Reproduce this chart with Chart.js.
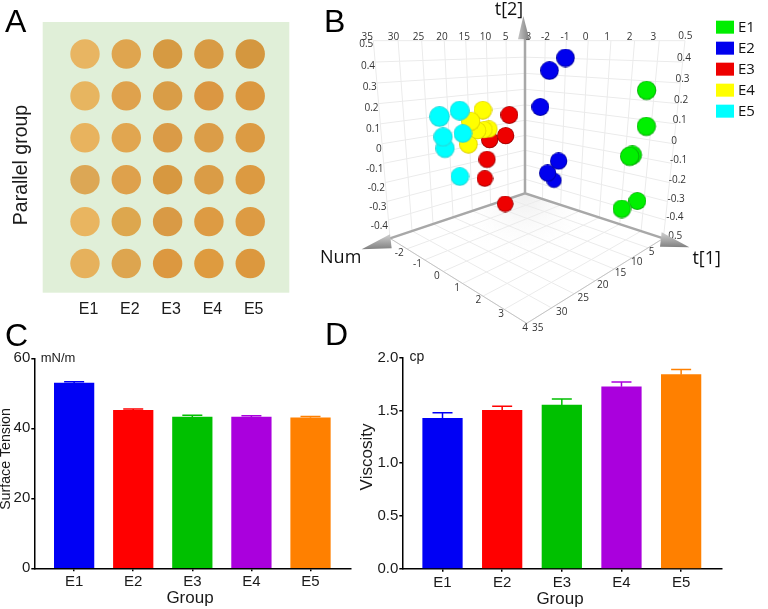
<!DOCTYPE html>
<html>
<head>
<meta charset="utf-8">
<title>Panels A-D</title>
<script src="https://cdn.jsdelivr.net/npm/chart.js@4"></script>
<style>
    html, body { margin: 0; padding: 0; background: #fff; }
    #page { position: relative; width: 768px; height: 609px; overflow: hidden; }
    canvas { position: absolute; }
    .letter { position: absolute; font: 32px/32px "Liberation Sans", sans-serif; color: #000; }
</style>
</head>
<body>
<div id="page">
    <canvas id="panel-a" width="310" height="325" style="left:0;top:0"></canvas>
    <canvas id="panel-b" width="458" height="340" style="left:310px;top:0"></canvas>
    <canvas id="panel-c" width="352" height="269" style="left:0;top:340px"></canvas>
    <canvas id="panel-d" width="400" height="269" style="left:352px;top:340px"></canvas>
    <div class="letter" style="left:5px;top:5px">A</div>
    <div class="letter" style="left:324px;top:5px">B</div>
    <div class="letter" style="left:5px;top:319px">C</div>
    <div class="letter" style="left:325px;top:318px">D</div>
</div>
<script>
// groups
const groups = ['E1', 'E2', 'E3', 'E4', 'E5'];

// panel A: seed colours, one row per parallel
const parallelRows = [1, 2, 3, 4, 5, 6];
const seedColours = [
    ['#e8b562', '#dfa54f', '#d69a42', '#d89b44', '#d4973f'],
    ['#e7b560', '#dfa24d', '#d99d47', '#db9742', '#db9840'],
    ['#e8b35e', '#e1a650', '#da9b47', '#db9d48', '#dc9b43'],
    ['#dca755', '#dea14c', '#d79840', '#da9c46', '#dc9a41'],
    ['#e9b560', '#dda74e', '#d99a45', '#dd9b43', '#dd9b43'],
    ['#e6b15c', '#dda54f', '#dc9840', '#de9b3f', '#dc983e']
];

// panel B: score positions
const e1X = [1011, 1010, 968, 960, 982, 936];
const e1Y = [272, 380, 466, 470, 603, 627];
const e1Depth = [29, 29, 29, 29, 27, 28];
const e2X = [767, 719, 691, 733, 714, 747];
const e2Y = [174, 212, 321, 542, 520, 484];
const e2Depth = [28, 28, 27, 23, 26, 26];
const e3X = [586, 525, 532, 540, 588, 598];
const e3Y = [612, 536, 479, 420, 408, 345];
const e3Depth = [25, 25, 26, 26, 26, 27];
const e4X = [476, 519, 538, 523, 504, 483];
const e4Y = [433, 331, 388, 390, 393, 365];
const e4Depth = [28, 28, 26, 26, 26, 29];
const e5X = [406, 450, 389, 449, 400, 459];
const e5Y = [446, 530, 350, 332, 412, 401];
const e5Depth = [29, 28, 31, 30, 29, 28];

const t1Ticks = ['-3', '-2', '-1', '0', '1', '2', '3'];
const t1FloorTicks = ['-2', '-1', '0', '1', '2', '3', '4'];
const t2LeftTicks = ['0.5', '0.4', '0.3', '0.2', '0.1', '0', '-0.1', '-0.2', '-0.3', '-0.4'];
const t2RightTicks = ['0.5', '0.4', '0.3', '0.2', '0.1', '0', '-0.1', '-0.2', '-0.3', '-0.4', '-0.5'];
const numTicks = ['35', '30', '25', '20', '15', '10', '5'];
const numFloorTicks = ['5', '10', '15', '20', '25', '30', '35'];

// panel C
const tensionValues = [52.9, 45.1, 43.2, 43.2, 43.0];
const tensionUpper = [53.3, 45.5, 43.7, 43.6, 43.4];
const tensionTicks = [0, 20, 40, 60];

// panel D
const viscosityValues = [1.425, 1.50, 1.552, 1.725, 1.839];
const viscosityUpper = [1.479, 1.54, 1.608, 1.77, 1.889];
const viscosityTicks = [0, 0.5, 1, 1.5, 2];

const barColours = ['#0000f5', '#ff0000', '#00c000', '#aa00dd', '#ff8000'];
const legendColours = ['#00ee00', '#0000ee', '#ee0000', '#ffff00', '#00ffff'];

Chart.defaults.font.family = '"Liberation Sans", sans-serif';
Chart.defaults.color = '#1a1a1a';
Chart.defaults.animation = false;
Chart.defaults.responsive = false;
Chart.defaults.layout.autoPadding = false;
Chart.defaults.plugins.legend.display = false;
Chart.defaults.plugins.tooltip.enabled = false;

// text placed in canvas pixels (axis titles, units)
function textPlugin(items) {
    return {
        id: 'panelText',
        afterDraw(chart) {
            const c = chart.ctx;
            items.forEach(it => {
                c.save();
                c.translate(it.x, it.y);
                if (it.rotate) c.rotate(it.rotate);
                c.font = it.size + 'px "Liberation Sans", sans-serif';
                c.fillStyle = '#1a1a1a';
                c.textAlign = 'center';
                c.textBaseline = 'middle';
                c.fillText(it.text, 0, 0);
                c.restore();
            });
        }
    };
}

//* Panel A
const greenPlot = {
    id: 'greenPlot',
    beforeDraw(chart) {
        const a = chart.chartArea;
        chart.ctx.fillStyle = '#e0efd8';
        chart.ctx.fillRect(a.left, a.top, a.width, a.height);
    }
};

new Chart(document.getElementById('panel-a'), {
    type: 'scatter',
    data: {
        datasets: [{
            data: parallelRows.flatMap(r => groups.map((g, i) => ({ x: i + 1, y: r }))),
            pointBackgroundColor: seedColours.flat(),
            pointBorderWidth: 0,
            pointRadius: 14.7
        }]
    },
    options: {
        layout: { padding: { top: 22, right: 20.7 } },
        scales: {
            x: {
                min: -0.024, max: 5.946,
                afterFit: s => { s.height = 32.3; },
                afterBuildTicks: s => { s.ticks = groups.map((g, i) => ({ value: i + 1 })); },
                border: { display: false },
                grid: { display: false },
                ticks: {
                    callback: v => groups[v - 1],
                    font: { size: 16 }, padding: -1, labelOffset: 3.5, maxRotation: 0, autoSkip: false
                }
            },
            y: {
                reverse: true, min: 0.236, max: 6.696,
                afterFit: s => { s.width = 42.7; },
                border: { display: false },
                grid: { display: false },
                ticks: { display: false }
            }
        }
    },
    plugins: [greenPlot, textPlugin([
        { text: 'Parallel group', x: 22, y: 165, size: 19.5, rotate: -Math.PI / 2 }
    ])]
});

//* Panel B: walls and floor of the 3D view, in view units (3 per pixel)
const viewW = 1374, viewH = 1020;
const cTopLeft = [190, 122], cTopBack = [645, 122], cTopRight = [1125, 122];
const cBack = [645, 580], cLeft = [240, 715], cRight = [1060, 715], cFront = [650, 970];

// perspective interpolation along an edge, w > 1 bunches points towards b
function along(a, b, t, w) {
    const d = (1 - t) + t * w;
    return [(a[0] * (1 - t) + b[0] * t * w) / d, (a[1] * (1 - t) + b[1] * t * w) / d];
}

function segments(n, a1, b1, w1, a2, b2, w2, from) {
    const pts = [];
    for (let i = from; i <= n; i++) {
        const p = along(a1, b1, i / n, w1), q = along(a2, b2, i / n, w2);
        pts.push({ x: p[0], y: p[1] }, { x: q[0], y: q[1] }, { x: NaN, y: NaN });
    }
    return pts;
}

const gridPoints = [
    ...segments(7, cTopLeft, cTopBack, 1.17, cLeft, cBack, 1.17, 0),
    ...segments(10, cTopLeft, cLeft, 1.09, cTopBack, cBack, 1.09, 0),
    ...segments(7, cTopBack, cTopRight, 0.87, cBack, cRight, 0.87, 0),
    ...segments(10, cTopRight, cRight, 1.09, cTopBack, cBack, 1.09, 0),
    ...segments(7, cLeft, cFront, 0.85, cBack, cRight, 0.87, 1),
    ...segments(7, cRight, cFront, 0.75, cBack, cLeft, 0.85, 1)
];
const edgePoints = [cLeft, cFront, cRight].map(p => ({ x: p[0], y: p[1] }));
const axisPoints = [
    { x: cBack[0], y: 110 }, { x: cBack[0], y: cBack[1] }, { x: NaN, y: NaN },
    { x: cLeft[0], y: cLeft[1] }, { x: cBack[0], y: cBack[1] }, { x: cRight[0], y: cRight[1] }
];

// cached shaded ball used as point style
const ballCache = {};
function ball(colour, rim, r) {
    const key = colour + r;
    if (ballCache[key]) return ballCache[key];
    const cv = document.createElement('canvas');
    cv.width = cv.height = Math.ceil(r * 2);
    const c = cv.getContext('2d');
    const g = c.createRadialGradient(r * 0.95, r * 0.8, 0, r, r, r);
    g.addColorStop(0, colour);
    g.addColorStop(0.84, colour);
    g.addColorStop(1, rim);
    c.fillStyle = g;
    c.beginPath();
    c.arc(r, r, r, 0, Math.PI * 2);
    c.fill();
    ballCache[key] = cv;
    return cv;
}

function ballSet(xs, ys, depth, colour, rim) {
    return {
        data: xs.map((x, i) => ({ x: x, y: ys[i] })),
        pointStyle: ctx => ball(colour, rim, depth[ctx.dataIndex] / 3),
        showLine: false
    };
}

const lineSet = (pts, colour, width) => ({
    data: pts, showLine: true, pointRadius: 0, borderColor: colour, borderWidth: width, spanGaps: false
});

const viewDecor = {
    id: 'viewDecor',
    beforeDatasetsDraw(chart) {
        const c = chart.ctx;
        const px = p => [chart.scales.x.getPixelForValue(p[0]), chart.scales.y.getPixelForValue(p[1])];
        const bk = px(cBack);
        const g = c.createRadialGradient(bk[0], bk[1], 0, bk[0], bk[1], 70);
        g.addColorStop(0, '#eeeeee');
        g.addColorStop(1, 'rgba(255,255,255,0)');
        c.fillStyle = g;
        c.beginPath();
        [cBack, cRight, cFront, cLeft].forEach(p => { const q = px(p); c.lineTo(q[0], q[1]); });
        c.fill();
    },
    afterDatasetsDraw(chart) {
        const c = chart.ctx;
        const px = p => [chart.scales.x.getPixelForValue(p[0]), chart.scales.y.getPixelForValue(p[1])];

        // tick labels along the edges
        const tickRuns = [
            { labels: numTicks, a: [172, 110], b: [587, 110], w: 1.17, align: 'center' },
            { labels: t1Ticks, a: [650, 110], b: [1030, 110], w: 0.87, align: 'center' },
            { labels: t2LeftTicks, a: [190, 133], b: [234, 679], w: 1.09, align: 'right' },
            { labels: t2RightTicks, a: [1105, 108], b: [1065, 708], w: 1.1, align: 'left' },
            { labels: t1FloorTicks, a: [268, 760], b: [645, 985], w: 0.85, align: 'center' },
            { labels: numFloorTicks, a: [1025, 757], b: [683, 985], w: 0.75, align: 'center' }
        ];
        c.font = '10px "Open Sans", sans-serif';
        c.fillStyle = '#333';
        c.textBaseline = 'middle';
        tickRuns.forEach(run => {
            c.textAlign = run.align;
            run.labels.forEach((label, i) => {
                const p = px(along(run.a, run.b, i / (run.labels.length - 1), run.w));
                c.fillText(label, p[0], p[1]);
            });
        });

        // cone heads of the three axes
        const cones = [
            { tip: [640, 48], b1: [624, 118], b2: [658, 118], g1: [624, 90], g2: [658, 90] },
            { tip: [155, 748], b1: [240, 703], b2: [245, 745], g1: [200, 710], g2: [200, 748] },
            { tip: [1138, 742], b1: [1055, 697], b2: [1050, 740], g1: [1090, 705], g2: [1090, 742] }
        ];
        cones.forEach(k => {
            const p1 = px(k.g1), p2 = px(k.g2);
            const g = c.createLinearGradient(p1[0], p1[1], p2[0], p2[1]);
            g.addColorStop(0, '#c4c4c4');
            g.addColorStop(1, '#808080');
            c.fillStyle = g;
            c.beginPath();
            [k.tip, k.b1, k.b2].forEach(p => { const q = px(p); c.lineTo(q[0], q[1]); });
            c.closePath();
            c.fill();
        });

        // axis names
        c.font = '18px "Open Sans", sans-serif';
        c.fillStyle = '#111';
        c.textAlign = 'center';
        [['t[2]', [597, 30]], ['Num', [92, 775]], ['t[1]', [1190, 778]]].forEach(n => {
            const p = px(n[1]);
            c.fillText(n[0], p[0], p[1]);
        });

        // legend
        c.font = '15px "Open Sans", sans-serif';
        c.textAlign = 'left';
        groups.forEach((name, i) => {
            const p = px([1218, 62 + i * 63]);
            c.fillStyle = legendColours[i];
            c.fillRect(p[0], p[1], 18, 13);
            c.fillStyle = '#111';
            c.fillText(name, p[0] + 22, p[1] + 7);
        });
    }
};

new Chart(document.getElementById('panel-b'), {
    type: 'scatter',
    data: {
        datasets: [
            ballSet(e5X, e5Y, e5Depth, '#00ffff', '#33cccc'),
            ballSet(e4X, e4Y, e4Depth, '#ffff00', '#d8c800'),
            ballSet(e3X, e3Y, e3Depth, '#ee0000', '#8a0000'),
            ballSet(e2X, e2Y, e2Depth, '#0000ee', '#00008a'),
            ballSet(e1X, e1Y, e1Depth, '#00f000', '#0a9a0a'),
            lineSet(axisPoints, '#a8a8a8', 2.5),
            lineSet(edgePoints, '#c4c4c4', 1),
            lineSet(gridPoints, '#ebebeb', 1)
        ]
    },
    options: {
        scales: {
            x: { display: false, min: 0, max: viewW },
            y: { display: false, min: 0, max: viewH, reverse: true }
        }
    },
    plugins: [viewDecor]
});

//* Panels C and D
const errorCaps = (upper, capPx) => ({
    id: 'errorCaps',
    afterDatasetsDraw(chart) {
        const c = chart.ctx, xs = chart.scales.x, ys = chart.scales.y;
        const values = chart.data.datasets[0].data;
        upper.forEach((u, i) => {
            const x = xs.getPixelForValue(i + 1), top = ys.getPixelForValue(u);
            c.strokeStyle = barColours[i];
            c.lineWidth = 1.5;
            c.beginPath();
            c.moveTo(x, ys.getPixelForValue(values[i].y));
            c.lineTo(x, top);
            c.moveTo(x - capPx / 2, top);
            c.lineTo(x + capPx / 2, top);
            c.stroke();
        });
    }
});

function barPanel(id, values, upper, tickValues, yMax, tickText, padding, yWidth, xHeight, texts) {
    new Chart(document.getElementById(id), {
        type: 'bar',
        data: {
            datasets: [{
                data: values.map((v, i) => ({ x: i + 1, y: v })),
                backgroundColor: barColours,
                barThickness: 39.6
            }]
        },
        options: {
            layout: { padding: padding },
            scales: {
                x: {
                    type: 'linear',
                    offset: false,
                    min: 0.326, max: 5.68,
                    afterFit: s => { s.height = xHeight; },
                    afterBuildTicks: s => { s.ticks = groups.map((g, i) => ({ value: i + 1 })); },
                    border: { color: '#000', width: 1.5 },
                    grid: { offset: false, drawOnChartArea: false, color: '#000', lineWidth: 1.5, tickLength: 3 },
                    ticks: {
                        callback: v => groups[v - 1],
                        font: { size: 15 }, padding: 2, maxRotation: 0, autoSkip: false
                    }
                },
                y: {
                    min: 0, max: yMax,
                    afterFit: s => { s.width = yWidth; },
                    afterBuildTicks: s => { s.ticks = tickValues.map(v => ({ value: v })); },
                    border: { color: '#000', width: 1.5 },
                    grid: { drawOnChartArea: false, color: '#000', lineWidth: 1.5, tickLength: 3 },
                    ticks: { callback: tickText, font: { size: 15 }, padding: 1 }
                }
            }
        },
        plugins: [errorCaps(upper, 20), textPlugin(texts)]
    });
}

barPanel('panel-c', tensionValues, tensionUpper, tensionTicks, 60, v => String(v),
    { top: 18.3, right: 1.3 }, 34.3, 40.7, [
        { text: 'mN/m', x: 58, y: 18, size: 13 },
        { text: 'Surface Tension', x: 6, y: 119, size: 14.2, rotate: -Math.PI / 2 },
        { text: 'Group', x: 190, y: 258, size: 17 }
    ]);

barPanel('panel-d', viscosityValues, viscosityUpper, viscosityTicks, 2, v => v.toFixed(1),
    { top: 17.7, right: 30.3 }, 50.3, 40.3, [
        { text: 'cp', x: 65, y: 17, size: 14 },
        { text: 'Viscosity', x: 15, y: 117, size: 17, rotate: -Math.PI / 2 },
        { text: 'Group', x: 208, y: 259, size: 17 }
    ]);
</script>
</body>
</html>
